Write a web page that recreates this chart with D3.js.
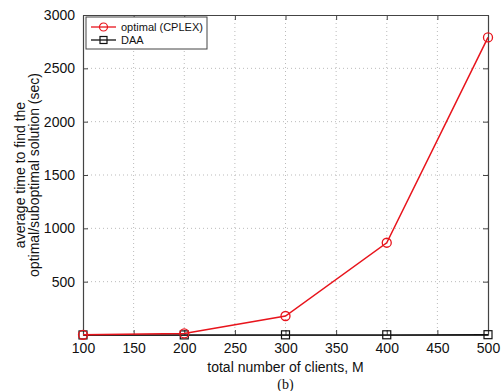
<!DOCTYPE html>
<html>
<head>
<meta charset="utf-8">
<script src="https://cdn.jsdelivr.net/npm/d3@7"></script>
<style>
  body { margin: 0; background: #fff; }
  text { font-family: "Liberation Sans", Arial, sans-serif; }
</style>
</head>
<body>
<div id="chart"></div>
<script>
// chart data
const clients = [100, 200, 300, 400, 500];
const optimalTime = [2, 15, 178, 865, 2790];
const daaTime = [0.5, 1, 1.5, 2, 3];
const xTicks = [100, 150, 200, 250, 300, 350, 400, 450, 500];
const yTicks = [500, 1000, 1500, 2000, 2500, 3000];

const W = 504, H = 391;
const margin = { top: 15, right: 16, bottom: 56, left: 83 };
const width = W - margin.left - margin.right;
const height = H - margin.top - margin.bottom;

const svg = d3.select("#chart").append("svg")
    .attr("width", W).attr("height", H);
const g = svg.append("g")
    .attr("transform", `translate(${margin.left},${margin.top})`);

const x = d3.scaleLinear().domain([100, 500]).range([0, width]);
const y = d3.scaleLinear().domain([0, 3000]).range([height, 0]);
const fmt = d3.format("d");

// grid
g.selectAll(".vgrid").data(xTicks.slice(1, -1)).enter().append("line")
    .attr("x1", d => x(d)).attr("x2", d => x(d))
    .attr("y1", 0).attr("y2", height)
    .attr("stroke", "#bbb").attr("stroke-width", 1).attr("stroke-dasharray", "1,3");
g.selectAll(".hgrid").data(yTicks.slice(0, -1)).enter().append("line")
    .attr("x1", 0).attr("x2", width)
    .attr("y1", d => y(d)).attr("y2", d => y(d))
    .attr("stroke", "#bbb").attr("stroke-width", 1).attr("stroke-dasharray", "1,3");

// axes (MATLAB style: ticks inward on all four sides)
const tk = 5;
const axB = g.append("g").attr("transform", `translate(0,${height})`)
    .call(d3.axisBottom(x).tickValues(xTicks).tickSizeInner(-tk).tickSizeOuter(0).tickPadding(8).tickFormat(fmt));
const axT = g.append("g")
    .call(d3.axisTop(x).tickValues(xTicks).tickSizeInner(-tk).tickSizeOuter(0).tickFormat(""));
const axL = g.append("g")
    .call(d3.axisLeft(y).tickValues(yTicks).tickSizeInner(-tk).tickSizeOuter(0).tickPadding(8).tickFormat(fmt));
const axR = g.append("g").attr("transform", `translate(${width},0)`)
    .call(d3.axisRight(y).tickValues(yTicks).tickSizeInner(-tk).tickSizeOuter(0).tickFormat(""));

[axB, axT, axL, axR].forEach(a => {
    a.select(".domain").attr("stroke", "#444").attr("stroke-width", 1.2);
    a.selectAll(".tick line").attr("stroke", "#444");
    a.selectAll("text").attr("font-size", 14).attr("fill", "#111")
        .style("font-family", "'Liberation Sans', Arial, sans-serif");
});

// lines
const line = d3.line().x((d, i) => x(clients[i])).y(d => y(d));

g.append("path").datum(daaTime)
    .attr("fill", "none").attr("stroke", "#111").attr("stroke-width", 1.3)
    .attr("d", line);
g.selectAll(".sq").data(daaTime).enter().append("rect")
    .attr("x", (d, i) => x(clients[i]) - 4).attr("y", d => y(d) - 4)
    .attr("width", 8).attr("height", 8)
    .attr("fill", "none").attr("stroke", "#111").attr("stroke-width", 1.2);

g.append("path").datum(optimalTime)
    .attr("fill", "none").attr("stroke", "#e8141c").attr("stroke-width", 1.5)
    .attr("d", line);
g.selectAll(".ci").data(optimalTime).enter().append("circle")
    .attr("cx", (d, i) => x(clients[i])).attr("cy", d => y(d))
    .attr("r", 4.5)
    .attr("fill", "none").attr("stroke", "#e8141c").attr("stroke-width", 1.3);

// legend
const leg = g.append("g").attr("transform", "translate(3,2)");
leg.append("rect").attr("width", 121).attr("height", 32)
    .attr("fill", "#fff").attr("stroke", "#444").attr("stroke-width", 1);
const items = [
    { label: "optimal (CPLEX)", color: "#e8141c", mark: "circle" },
    { label: "DAA", color: "#111", mark: "square" }
];
items.forEach((it, i) => {
    const yy = 10 + i * 13;
    leg.append("line").attr("x1", 5).attr("x2", 30).attr("y1", yy).attr("y2", yy)
        .attr("stroke", it.color).attr("stroke-width", 1.3);
    if (it.mark === "circle") {
        leg.append("circle").attr("cx", 17.5).attr("cy", yy).attr("r", 4)
            .attr("fill", "none").attr("stroke", it.color).attr("stroke-width", 1.2);
    } else {
        leg.append("rect").attr("x", 14).attr("y", yy - 3.5).attr("width", 7).attr("height", 7)
            .attr("fill", "none").attr("stroke", it.color).attr("stroke-width", 1.2);
    }
    leg.append("text").attr("x", 35).attr("y", yy + 4)
        .attr("font-size", 11).attr("fill", "#111").text(it.label);
});

// axis labels
svg.append("text")
    .attr("x", margin.left + width / 2).attr("y", 372)
    .attr("text-anchor", "middle").attr("font-size", 14).attr("fill", "#111")
    .text("total number of clients, M");
svg.append("text")
    .attr("x", margin.left + width / 2).attr("y", 389)
    .attr("text-anchor", "middle").attr("font-size", 14).attr("fill", "#111")
    .style("font-family", "'Liberation Serif', 'Times New Roman', serif")
    .text("(b)");

const yl = svg.append("text")
    .attr("transform", `translate(25,${margin.top + height / 2}) rotate(-90)`)
    .attr("text-anchor", "middle").attr("font-size", 14).attr("fill", "#111");
yl.append("tspan").attr("x", 0).attr("dy", 0).text("average time to find the");
yl.append("tspan").attr("x", 0).attr("dy", 14).text("optimal/suboptimal solution (sec)");
</script>
</body>
</html>
